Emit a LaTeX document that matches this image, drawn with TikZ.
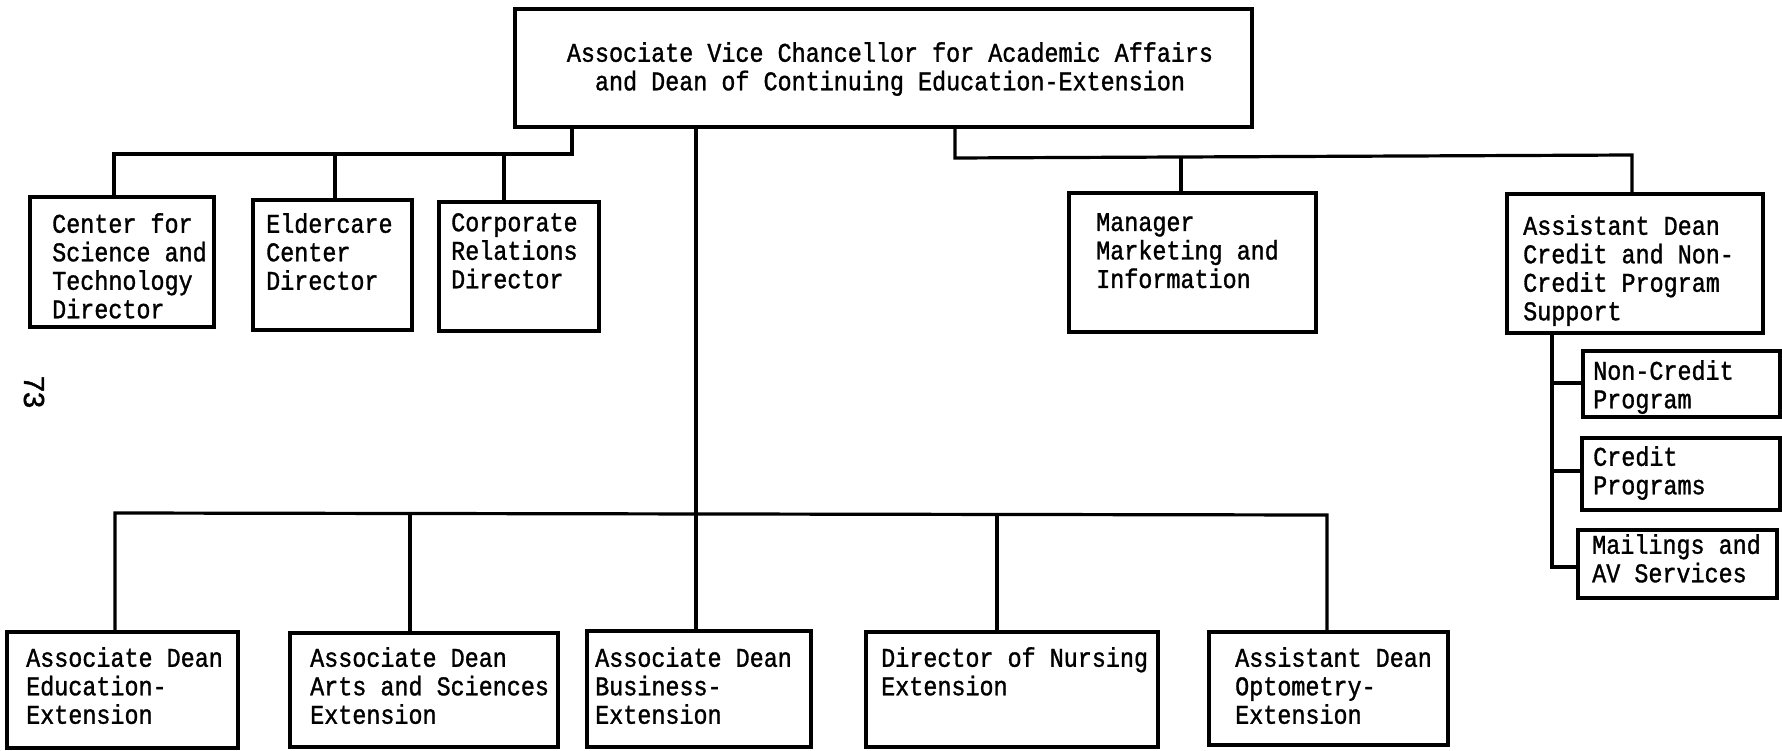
\documentclass[tikz,border=0pt]{standalone}
\usepackage{fontspec}
\setmainfont{Liberation Serif}
\newfontfamily\typew[FakeStretch=0.867,FakeBold=1.2]{Liberation Mono}
\newfontfamily\pagefont[FakeBold=1.5]{Liberation Sans}
\begin{document}
\begin{tikzpicture}[x=1pt,y=-1pt,
  obox/.style={draw, line width=3.4pt, inner sep=0pt, outer sep=0pt, anchor=north west, rectangle},
  conn/.style={line width=3.2pt},
  txt/.style={font=\typew\fontsize{27}{28.5}\selectfont, inner sep=0pt, align=left, anchor=north west, execute at begin node=\strut},
]
\useasboundingbox (0,0) rectangle (1782,751);

% boxes
\node[obox, minimum width=737pt, minimum height=118pt] (top) at (515,9) {};
\node[obox, minimum width=184pt, minimum height=130pt] (cst) at (30,197) {};
\node[obox, minimum width=159pt, minimum height=130pt] (eld) at (253,200) {};
\node[obox, minimum width=160pt, minimum height=129pt] (cor) at (439,202) {};
\node[obox, minimum width=247pt, minimum height=139pt] (mkt) at (1069,193) {};
\node[obox, minimum width=256pt, minimum height=139pt] (asd) at (1507,194) {};
\node[obox, minimum width=197pt, minimum height=66pt] (ncp) at (1583,351) {};
\node[obox, minimum width=198pt, minimum height=72pt] (crp) at (1582,438) {};
\node[obox, minimum width=199pt, minimum height=68pt] (mav) at (1578,530) {};
\node[obox, minimum width=231pt, minimum height=116pt] (edu) at (7,632) {};
\node[obox, minimum width=268pt, minimum height=114pt] (art) at (290,633) {};
\node[obox, minimum width=224pt, minimum height=116pt] (bus) at (587,631) {};
\node[obox, minimum width=292pt, minimum height=115pt] (nur) at (866,632) {};
\node[obox, minimum width=239pt, minimum height=113pt] (opt) at (1209,632) {};

% texts
\node[txt, anchor=north, align=center] (top-t) at (890,42) {Associate Vice Chancellor for Academic Affairs\\and Dean of Continuing Education-Extension};
\node[txt] (cst-t) at (52,213) {Center for\\Science and\\Technology\\Director};
\node[txt] (eld-t) at (266,213) {Eldercare\\Center\\Director};
\node[txt] (cor-t) at (451,213) {Corporate\\Relations\\Director};
\node[txt] (mkt-t) at (1096,213) {Manager\\Marketing and\\Information};
\node[txt] (asd-t) at (1523,215) {Assistant Dean\\Credit and Non-\\Credit Program\\Support};
\node[txt] (ncp-t) at (1593,360) {Non-Credit\\Program};
\node[txt] (crp-t) at (1593,446) {Credit\\Programs};
\node[txt] (mav-t) at (1592,534) {Mailings and\\AV Services};
\node[txt] (edu-t) at (26,647) {Associate Dean\\Education-\\Extension};
\node[txt] (art-t) at (310,647) {Associate Dean\\Arts and Sciences\\Extension};
\node[txt] (bus-t) at (595,647) {Associate Dean\\Business-\\Extension};
\node[txt] (nur-t) at (881,647) {Director of Nursing\\Extension};
\node[txt] (opt-t) at (1235,647) {Assistant Dean\\Optometry-\\Extension};

% page number
\node[font=\pagefont\fontsize{29}{30}\selectfont, rotate=-90, inner sep=0pt] (pg) at (34,392) {73};

% bus coordinates
\coordinate (lb0) at (572,154);
\coordinate (lb1) at (114,154);
\coordinate (lb2) at (335,154);
\coordinate (lb3) at (504,154);
\coordinate (rb0) at (955,158);
\coordinate (rb1) at (1181,157);
\coordinate (rb2) at (1632,155);
\coordinate (cb) at (696,513);
\coordinate (bb1) at (115,513);
\coordinate (bb2) at (410,513);
\coordinate (bb4) at (997,514);
\coordinate (bb5) at (1327,515);
\coordinate (s1) at (1552,383);
\coordinate (s2) at (1552,471);
\coordinate (s3) at (1552,567);

% connectors
\draw[conn] (top.south -| lb0) -- (lb0) -- (lb1) -- (lb1 |- cst.north);
\draw[conn] (lb2) -- (lb2 |- eld.north);
\draw[conn] (lb3) -- (lb3 |- cor.north);
\draw[conn] (top.south -| rb0) -- (rb0) -- (rb2) -- (rb2 |- asd.north);
\draw[conn] (rb1) -- (rb1 |- mkt.north);
\draw[conn] (top.south -| cb) -- (cb |- bus.north);
\draw[conn] (bb1 |- edu.north) -- (bb1) -- (bb5) -- (bb5 |- opt.north);
\draw[conn] (bb2) -- (bb2 |- art.north);
\draw[conn] (bb4) -- (bb4 |- nur.north);
\draw[conn] (asd.south -| s3) -- (s3) -- (s3 -| mav.west);
\draw[conn] (s1) -- (s1 -| ncp.west);
\draw[conn] (s2) -- (s2 -| crp.west);
\end{tikzpicture}
\end{document}
